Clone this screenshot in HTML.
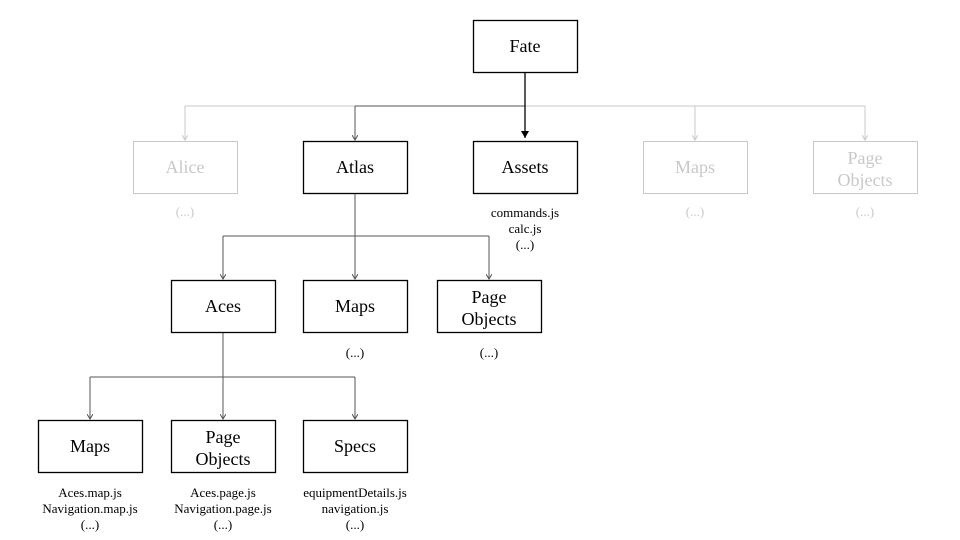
<!DOCTYPE html>
<html><head><meta charset="utf-8"><style>
html,body{margin:0;padding:0;background:#fff;width:960px;height:540px;overflow:hidden}
text{font-family:"Liberation Serif",serif}
</style></head><body>
<svg width="960" height="540" viewBox="0 0 960 540" xmlns="http://www.w3.org/2000/svg">
<defs>
<marker id="a" markerWidth="6" markerHeight="6" refX="3" refY="5" markerUnits="userSpaceOnUse"><path d="M0,0 L3,5 L6,0" fill="none" stroke="#555" stroke-width="1"/></marker>
<marker id="k" markerWidth="8" markerHeight="8" refX="4" refY="7" markerUnits="userSpaceOnUse"><path d="M0,0 L4,7 L8,0 Z" fill="#000"/></marker>
<marker id="g" markerWidth="6" markerHeight="6" refX="3" refY="5" markerUnits="userSpaceOnUse"><path d="M0,0 L3,5 L6,0" fill="none" stroke="#c8c8c8" stroke-width="1"/></marker>
</defs>
<g stroke="#c8c8c8" fill="none" stroke-width="1">
<path d="M185,106 H865"/>
<path d="M185,106 V140" marker-end="url(#g)"/>
<path d="M695,106 V140" marker-end="url(#g)"/>
<path d="M865,106 V140" marker-end="url(#g)"/>
</g>
<g stroke="#555" fill="none" stroke-width="1">
<path d="M355,106 H525"/>
<path d="M355,106 V140" marker-end="url(#a)"/>
<path d="M355,193 V236 M223,236 H489"/>
<path d="M223,236 V279" marker-end="url(#a)"/>
<path d="M355,236 V279" marker-end="url(#a)"/>
<path d="M489,236 V279" marker-end="url(#a)"/>
<path d="M223,332 V377 M90,377 H355"/>
<path d="M90,377 V419" marker-end="url(#a)"/>
<path d="M223,377 V419" marker-end="url(#a)"/>
<path d="M355,377 V419" marker-end="url(#a)"/>
</g>
<path d="M525,72 V138" stroke="#000" stroke-width="1.3" marker-end="url(#k)"/>
<g fill="#fff" stroke="#000" stroke-width="1.3">
<rect x="473.5" y="20.5" width="104" height="52"/>
<rect x="303.5" y="141.5" width="104" height="52"/>
<rect x="473.5" y="141.5" width="104" height="52"/>
<rect x="171.5" y="280.5" width="104" height="52"/>
<rect x="303.5" y="280.5" width="104" height="52"/>
<rect x="437.5" y="280.5" width="104" height="52"/>
<rect x="38.5" y="420.5" width="104" height="52"/>
<rect x="171.5" y="420.5" width="104" height="52"/>
<rect x="303.5" y="420.5" width="104" height="52"/>
</g>
<g fill="#fff" stroke="#c8c8c8" stroke-width="1">
<rect x="133.5" y="141.5" width="104" height="52"/>
<rect x="643.5" y="141.5" width="104" height="52"/>
<rect x="813.5" y="141.5" width="104" height="52"/>
</g>
<g font-size="18" text-anchor="middle" fill="#000">
<text x="525" y="52">Fate</text>
<text x="355" y="173">Atlas</text>
<text x="525" y="173">Assets</text>
<text x="223" y="312">Aces</text>
<text x="355" y="312">Maps</text>
<text x="489" y="303">Page</text><text x="489" y="325">Objects</text>
<text x="90" y="452">Maps</text>
<text x="223" y="443">Page</text><text x="223" y="465">Objects</text>
<text x="355" y="452">Specs</text>
</g>
<g font-size="18" text-anchor="middle" fill="#c8c8c8">
<text x="185" y="173">Alice</text>
<text x="695" y="173">Maps</text>
<text x="865" y="164">Page</text><text x="865" y="186">Objects</text>
</g>
<g font-size="13" text-anchor="middle" fill="#000">
<text x="525" y="217">commands.js</text><text x="525" y="233">calc.js</text><text x="525" y="249">(...)</text>
<text x="355" y="357">(...)</text>
<text x="489" y="357">(...)</text>
<text x="90" y="497">Aces.map.js</text><text x="90" y="513">Navigation.map.js</text><text x="90" y="529">(...)</text>
<text x="223" y="497">Aces.page.js</text><text x="223" y="513">Navigation.page.js</text><text x="223" y="529">(...)</text>
<text x="355" y="497">equipmentDetails.js</text><text x="355" y="513">navigation.js</text><text x="355" y="529">(...)</text>
</g>
<g font-size="13" text-anchor="middle" fill="#c8c8c8">
<text x="185" y="216">(...)</text>
<text x="695" y="216">(...)</text>
<text x="865" y="216">(...)</text>
</g>
</svg>
</body></html>
